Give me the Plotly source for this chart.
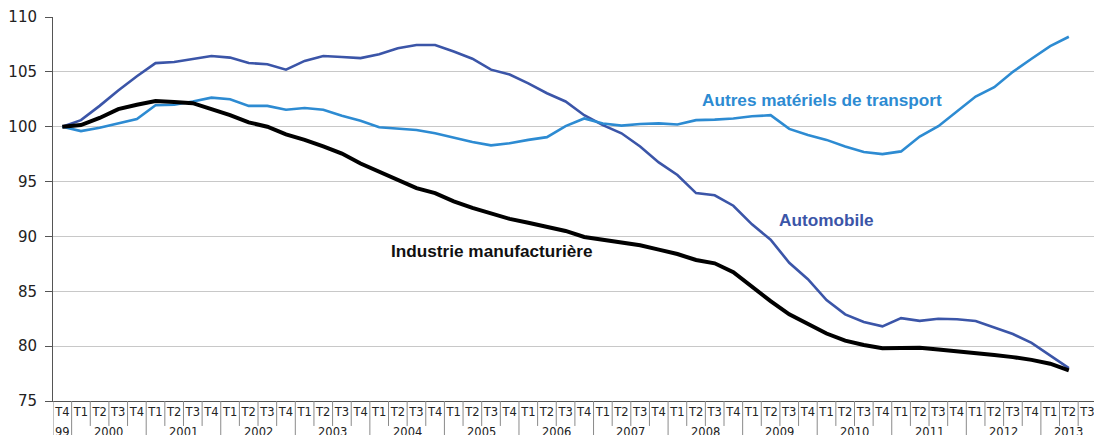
import plotly.graph_objects as go

# ---- data ----
quarters = ["T4"] + ["T1", "T2", "T3", "T4"] * 13 + ["T1", "T2", "T3"]
years = ["99"] + [str(y) for y in range(2000, 2013) for _ in range(4)] + ["2013"] * 3
categories = [f"{q} {y}" for q, y in zip(quarters, years)]

automobile = [100, 100.6, 101.9, 103.3, 104.6, 105.8, 105.9, 106.2, 106.45, 106.3,
              105.8, 105.7, 105.2, 106.0, 106.45, 106.35, 106.25, 106.6, 107.15, 107.45,
              107.45, 106.85, 106.2, 105.2, 104.75, 103.95, 103.05, 102.3, 101.05, 100.15,
              99.4, 98.2, 96.75, 95.6, 93.95, 93.75, 92.8, 91.1, 89.7, 87.6,
              86.1, 84.2, 82.9, 82.2, 81.8, 82.55, 82.3, 82.5, 82.45, 82.3,
              81.7, 81.1, 80.3, 79.15, 78.0]
autres = [100, 99.6, 99.9, 100.3, 100.7, 101.95, 102.0, 102.3, 102.65, 102.5,
          101.9, 101.9, 101.55, 101.7, 101.55, 101.0, 100.55, 99.95, 99.8, 99.7,
          99.4, 99.0, 98.6, 98.3, 98.5, 98.8, 99.05, 100.05, 100.75, 100.3,
          100.1, 100.25, 100.3, 100.2, 100.6, 100.65, 100.75, 100.95, 101.05, 99.8,
          99.25, 98.8, 98.2, 97.7, 97.5, 97.75, 99.1, 100.05, 101.4, 102.75,
          103.6, 105.0, 106.2, 107.35, 108.2]
industrie = [100, 100.15, 100.8, 101.6, 102.0, 102.35, 102.25, 102.15, 101.6, 101.05,
             100.4, 100.0, 99.3, 98.8, 98.2, 97.55, 96.65, 95.9, 95.1, 94.4,
             93.95, 93.2, 92.6, 92.1, 91.6, 91.25, 90.9, 90.5, 89.95, 89.7,
             89.5, 89.2, 88.8, 88.4, 87.85, 87.55, 86.75, 85.4, 84.1, 82.9,
             82.0, 81.15, 80.5, 80.1, 79.8, 79.85, 79.85, 79.7, 79.55, 79.4,
             79.2, 79.0, 78.75, 78.4, 77.8]

C_AUTO = "#3b55a8"
C_AUTRES = "#2d8bd2"
C_IND = "#000000"

fig = go.Figure()
fig.add_trace(go.Scatter(x=categories[:len(automobile)], y=automobile, mode="lines",
                         line=dict(color=C_AUTO, width=2.6), name="Automobile"))
fig.add_trace(go.Scatter(x=categories[:len(autres)], y=autres, mode="lines",
                         line=dict(color=C_AUTRES, width=2.6), name="Autres matériels de transport"))
fig.add_trace(go.Scatter(x=categories[:len(industrie)], y=industrie, mode="lines",
                         line=dict(color=C_IND, width=4), name="Industrie manufacturière"))

shapes = []
n = len(categories)
for i in range(-1, n):
    pos = i + 0.5
    year_break = (i == -1) or (i + 1 < n and years[i + 1] != years[i]) or i == n - 1
    shapes.append(dict(type="line", xref="x", yref="paper", x0=pos, x1=pos,
                       y0=0, y1=-0.2 if year_break else -0.065,
                       line=dict(color="#8a8a8a", width=1)))

annotations = []
# year labels centered on their groups
groups = []
for i, y in enumerate(years):
    if groups and groups[-1][0] == y:
        groups[-1][2] = i
    else:
        groups.append([y, i, i])
for y, a, b in groups:
    annotations.append(dict(x=(a + b) / 2, y=-0.057, xref="x", yref="paper", text=y,
                            showarrow=False, xanchor="center", yanchor="top",
                            font=dict(family="DejaVu Sans", size=11.5, color="#222")))

lab_font = dict(family="Liberation Sans", size=17.2)
annotations += [
    dict(x=34.2, y=102.45, xref="x", yref="y", text="<b>Autres matériels de transport</b>",
         showarrow=False, xanchor="left", yanchor="middle", font=dict(color=C_AUTRES, **lab_font)),
    dict(x=38.35, y=91.5, xref="x", yref="y", text="<b>Automobile</b>",
         showarrow=False, xanchor="left", yanchor="middle", font=dict(color=C_AUTO, **lab_font)),
    dict(x=17.5, y=88.7, xref="x", yref="y", text="<b>Industrie manufacturière</b>",
         showarrow=False, xanchor="left", yanchor="middle", font=dict(color="#111", **lab_font)),
]

fig.update_layout(
    width=1094, height=435,
    margin=dict(l=53, r=0, t=17, b=34, autoexpand=False),
    paper_bgcolor="white", plot_bgcolor="white",
    showlegend=False,
    shapes=shapes, annotations=annotations,
    xaxis=dict(type="category", categoryorder="array", categoryarray=categories,
               range=[-0.5, 55.35], tickvals=categories, ticktext=quarters,
               showgrid=False, showline=True, linecolor="#555", linewidth=1,
               ticks="", tickangle=0, ticklabelstandoff=0, automargin=False,
               tickfont=dict(family="DejaVu Sans", size=11.5, color="#222"),
               zeroline=False, fixedrange=True),
    yaxis=dict(range=[75, 110], tickvals=[75, 80, 85, 90, 95, 100, 105, 110],
               showgrid=True, gridcolor="#c8c8c8", gridwidth=1.2,
               showline=True, linecolor="#555", linewidth=1,
               ticks="outside", ticklen=7, tickcolor="#555", automargin=False,
               ticklabelstandoff=5,
               tickfont=dict(family="DejaVu Sans", size=15, color="#222"),
               zeroline=False, fixedrange=True),
)

fig.write_html(
    "out.html",
    config={"displayModeBar": False},
    post_script="document.documentElement.style.margin='0';document.body.style.margin='0';"
                "document.body.style.padding='0';document.body.style.overflow='hidden';",
)
